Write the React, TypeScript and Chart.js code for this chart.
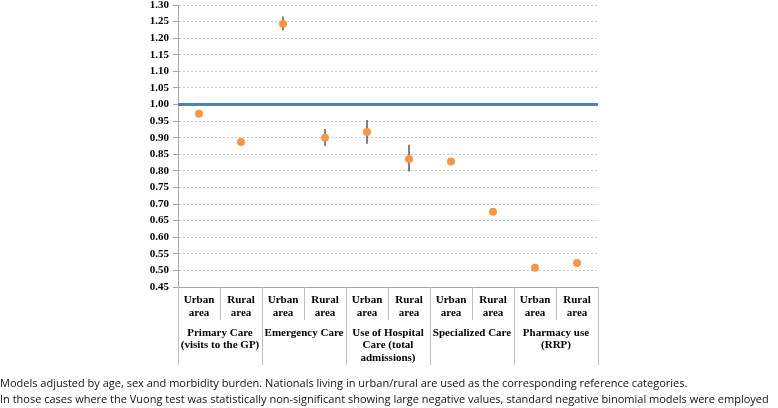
import React, { useEffect, useRef } from "react";
import { Chart, registerables } from "chart.js";

Chart.register(...registerables);

// ---- data ----
const placeLabels: string[][] = [
  ["Urban", "area"], ["Rural", "area"],
  ["Urban", "area"], ["Rural", "area"],
  ["Urban", "area"], ["Rural", "area"],
  ["Urban", "area"], ["Rural", "area"],
  ["Urban", "area"], ["Rural", "area"],
];
const groupLabels: string[][] = [
  ["Primary Care", "(visits to the GP)"],
  ["Emergency Care"],
  ["Use of Hospital", "Care (total", "admissions)"],
  ["Specialized Care"],
  ["Pharmacy use", "(RRP)"],
];
const ratios: number[] = [0.972, 0.887, 1.243, 0.900, 0.917, 0.836, 0.828, 0.677, 0.508, 0.522];
const lowerCI: number[] = [0.969, 0.885, 1.224, 0.875, 0.882, 0.798, 0.826, 0.672, 0.506, 0.520];
const upperCI: number[] = [0.975, 0.889, 1.265, 0.926, 0.953, 0.879, 0.830, 0.686, 0.510, 0.524];
const referenceValue = 1.0;
const yMin = 0.45;
const yMax = 1.3;
const yStep = 0.05;
const notes: string[] = [
  "Models adjusted by age, sex and morbidity burden. Nationals living in urban/rural are used as the corresponding reference categories.",
  "In those cases where the Vuong test was statistically non-significant showing large negative values, standard negative binomial models were employed",
];

const SERIF = "'Liberation Serif', 'Times New Roman', serif";

const overlayPlugin = {
  id: "overlay",
  beforeDatasetsDraw(chart: any) {
    const { ctx, scales } = chart;
    const xs = scales.x;
    const ys = scales.y;
    ctx.save();
    ctx.strokeStyle = "#595959";
    ctx.lineWidth = 1.5;
    for (let i = 0; i < ratios.length; i++) {
      const x = xs.getPixelForValue(i + 0.5);
      ctx.beginPath();
      ctx.moveTo(x, ys.getPixelForValue(lowerCI[i]));
      ctx.lineTo(x, ys.getPixelForValue(upperCI[i]));
      ctx.stroke();
    }
    ctx.restore();
  },
  afterDraw(chart: any) {
    const { ctx, scales, chartArea } = chart;
    const xs = scales.x;
    const bottom = chartArea.bottom;
    ctx.save();
    // x axis line
    ctx.strokeStyle = "#a6a6a6";
    ctx.lineWidth = 1;
    ctx.beginPath();
    ctx.moveTo(chartArea.left, Math.round(bottom) + 0.5);
    ctx.lineTo(chartArea.right, Math.round(bottom) + 0.5);
    ctx.stroke();
    // separators
    ctx.strokeStyle = "#bfbfbf";
    for (let b = 0; b <= placeLabels.length; b++) {
      const x = Math.round(xs.getPixelForValue(b)) + 0.5;
      const end = b % 2 === 0 ? bottom + 78 : bottom + 33;
      ctx.beginPath();
      ctx.moveTo(x, bottom);
      ctx.lineTo(x, end);
      ctx.stroke();
    }
    // labels
    ctx.fillStyle = "#000";
    ctx.font = "bold 11px " + SERIF;
    ctx.textAlign = "center";
    ctx.textBaseline = "middle";
    placeLabels.forEach((lines, i) => {
      const x = xs.getPixelForValue(i + 0.5);
      lines.forEach((t, k) => ctx.fillText(t, x, bottom + 13 + k * 13));
    });
    groupLabels.forEach((lines, g) => {
      const x = xs.getPixelForValue(g * 2 + 1);
      lines.forEach((t, k) => ctx.fillText(t, x, bottom + 46 + k * 12.5));
    });
    ctx.restore();
  },
};

export default function App() {
  const ref = useRef<HTMLCanvasElement | null>(null);
  useEffect(() => {
    if (!ref.current) return;
    const chart = new Chart(ref.current, {
      type: "scatter",
      data: {
        datasets: [
          {
            type: "line",
            data: [
              { x: 0, y: referenceValue },
              { x: placeLabels.length, y: referenceValue },
            ],
            borderColor: "#4f81bd",
            borderWidth: 3,
            pointRadius: 0,
            order: 2,
          } as any,
          {
            data: ratios.map((v, i) => ({ x: i + 0.5, y: v })),
            backgroundColor: "#f79646",
            borderWidth: 0,
            pointRadius: 4,
            order: 1,
          },
        ],
      },
      options: {
        responsive: false,
        animation: false,
        layout: { padding: { left: 0, right: 180, top: 5, bottom: 0 } },
        plugins: { legend: { display: false }, tooltip: { enabled: false } },
        scales: {
          x: {
            type: "linear",
            min: 0,
            max: placeLabels.length,
            ticks: { display: false },
            grid: { display: false },
            border: { display: false },
            afterFit: (s: any) => {
              s.height = 121;
              s.paddingLeft = 0;
              s.paddingRight = 0;
            },
          },
          y: {
            min: yMin,
            max: yMax,
            ticks: {
              stepSize: yStep,
              padding: 4,
              color: "#000",
              font: { family: SERIF, size: 11, weight: "bold" },
              callback: (v: any) => Number(v).toFixed(2),
            },
            grid: {
              color: "#c8c8c8",
              tickColor: "#a6a6a6",
              tickLength: 5,
              tickBorderDash: [],
            },
            border: { display: true, color: "#a6a6a6", width: 1, dash: [2, 2] },
            afterFit: (s: any) => {
              s.width = 178;
              s.paddingTop = 0;
              s.paddingBottom = 0;
            },
          },
        },
      } as any,
      plugins: [overlayPlugin],
    });
    return () => chart.destroy();
  }, []);

  return (
    <div style={{ position: "absolute", left: 0, top: 0, width: 778, height: 408, background: "#fff", overflow: "hidden" }}>
      <canvas ref={ref} width={778} height={408} style={{ display: "block" }} />
      {notes.map((n, i) => (
        <div
          key={i}
          style={{
            position: "absolute",
            left: 0,
            top: 375 + i * 15.5,
            whiteSpace: "nowrap",
            fontFamily: "'Open Sans', 'Noto Sans', sans-serif",
            fontSize: 11,
            letterSpacing: 0,
            lineHeight: "16px",
            color: "#111",
          }}
        >
          {n}
        </div>
      ))}
    </div>
  );
}
